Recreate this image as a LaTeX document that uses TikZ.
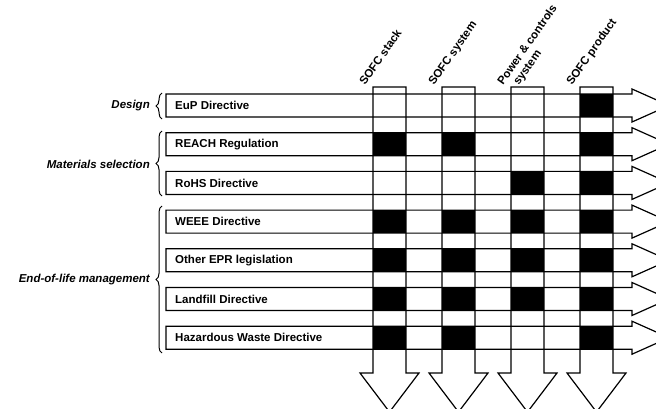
\documentclass[tikz,border=0pt]{standalone}
\usepackage{fontspec}
\setmainfont{Liberation Sans}
\usepackage{tikz}
\usetikzlibrary{decorations.pathreplacing}

\tikzset{
  lawrow/.style={draw, line width=1.2pt, line join=miter},
  stagecol/.style={draw, line width=1.2pt, line join=miter},
  lawlabel/.style={anchor=west, inner sep=0pt, font=\fontsize{11.5}{13}\selectfont\bfseries},
  stagelabel/.style={anchor=base west, inner sep=0pt, rotate=55,
    font=\fontsize{11.5}{12}\selectfont\bfseries},
  grouplabel/.style={anchor=east, inner sep=0pt, font=\fontsize{11.5}{13}\selectfont\bfseries\itshape},
  groupbrace/.style={draw, line width=1pt, decorate, decoration={brace, amplitude=6pt}}
}

\begin{document}
\begin{tikzpicture}[x=1pt, y=-1pt]
\useasboundingbox (0,0) rectangle (656,409);
% filled cells: law row / stage column
\foreach \i/\j in {1/4, 2/1, 2/2, 2/4, 3/3, 3/4, 4/1, 4/2, 4/3, 4/4,
                   5/1, 5/2, 5/3, 5/4, 6/1, 6/2, 6/3, 6/4, 7/1, 7/2, 7/4}
  \fill ({373+(\j-1)*69},{94+(\i-1)*38.7}) rectangle ++(33,23);
% legislation rows
\foreach \i/\lab/\txt in {1/eup/EuP Directive, 2/reach/REACH Regulation,
    3/rohs/RoHS Directive, 4/weee/WEEE Directive, 5/epr/Other EPR legislation,
    6/landfill/Landfill Directive, 7/hazwaste/Hazardous Waste Directive} {
  \draw[lawrow] (166,{94+(\i-1)*38.7}) -- ++(466,0) -- ++(0,-5) -- ++(37,16.5)
    -- ++(-37,16.5) -- ++(0,-5) -- ++(-466,0) -- cycle;
  \node[lawlabel] (\lab) at (175,{105.5+(\i-1)*38.7}) {\txt};
}
% stage columns
\foreach \j/\lab/\txt in {1/stack/SOFC stack, 2/system/SOFC system,
    3/power/{\begin{tabular}[t]{@{}l@{}}Power \& controls\\[1pt]\hspace*{9pt}system\end{tabular}},
    4/product/SOFC product} {
  \draw[stagecol] ({373+(\j-1)*69},87) -- ++(0,286) -- ++(-13,0) -- ++(29.5,39)
    -- ++(29.5,-39) -- ++(-13,0) -- ++(0,-286) -- cycle;
  \node[stagelabel] (\lab) at ({365+(\j-1)*69},86) {\txt};
}
% groups
\draw[groupbrace] (162,119) -- (162,93);
\node[grouplabel] (design) at (150,106) {Design};
\draw[groupbrace] (162,196) -- (162,131);
\node[grouplabel] (materials) at (150,164) {Materials selection};
\draw[groupbrace] (162,353) -- (162,206);
\node[grouplabel] (endoflife) at (150,280) {End-of-life management};
\end{tikzpicture}
\end{document}
